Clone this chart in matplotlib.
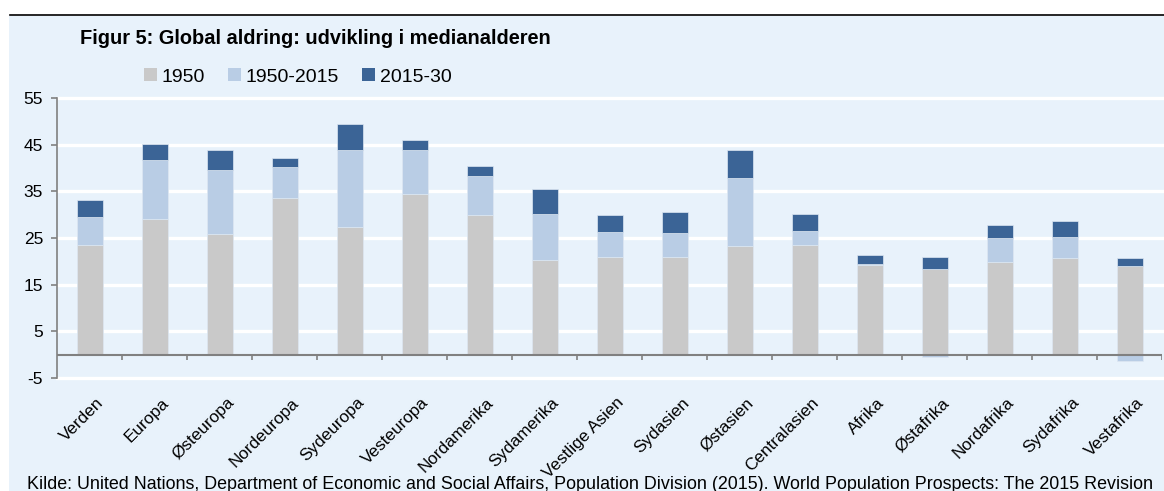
import numpy as np
import matplotlib
matplotlib.use("Agg")
import matplotlib.pyplot as plt
from matplotlib.patches import Rectangle, Patch
from matplotlib.lines import Line2D
from matplotlib.transforms import ScaledTranslation

plt.rcParams["font.family"] = ["Liberation Sans", "DejaVu Sans"]
plt.rcParams["axes.unicode_minus"] = False

# data (medianalder)
regions = ["Verden", "Europa", "Østeuropa", "Nordeuropa", "Sydeuropa", "Vesteuropa",
           "Nordamerika", "Sydamerika", "Vestlige Asien", "Sydasien", "Østasien",
           "Centralasien", "Afrika", "Østafrika", "Nordafrika", "Sydafrika", "Vestafrika"]
base_1950 = [23.6, 29.0, 25.9, 33.6, 27.4, 34.5, 29.9, 20.3, 20.9, 20.9, 23.2,
             23.6, 19.3, 18.4, 19.9, 20.7, 19.1]
chg_1950_2015 = [6.0, 12.7, 13.7, 6.7, 16.5, 9.3, 8.3, 9.8, 5.4, 5.2, 14.7,
                 2.9, 0.1, -0.5, 5.2, 4.5, -1.4]
chg_2015_30 = [3.5, 3.4, 4.3, 1.8, 5.5, 2.1, 2.2, 5.5, 3.6, 4.5, 5.9,
               3.7, 1.9, 2.5, 2.6, 3.4, 1.6]
series_names = ["1950", "1950-2015", "2015-30"]

colors = ["#c9c9c9", "#b9cde5", "#3b6496"]
panel_bg = "#e8f2fb"
axis_gray = "#808080"

W, H = 1164, 491
fig = plt.figure(figsize=(W / 100, H / 100), dpi=100)
fig.patch.set_facecolor("white")

# light blue panel + black rule on top
fig.patches.append(Rectangle((9 / W, 0), 1 - 9 / W, 1 - 16 / H, transform=fig.transFigure,
                             facecolor=panel_bg, edgecolor="none", zorder=-5))
fig.lines.append(Line2D([10 / W, 1], [1 - 15 / H, 1 - 15 / H], transform=fig.transFigure,
                        color="black", lw=1.2, zorder=-4))

ax = fig.add_axes([57 / W, 1 - 378 / H, (1162 - 57) / W, (378 - 98) / H])
ax.set_facecolor(panel_bg)

x = np.arange(len(regions))
pos_bottom = np.zeros(len(regions))
neg_bottom = np.zeros(len(regions))
for vals, col in zip([base_1950, chg_1950_2015, chg_2015_30], colors):
    v = np.array(vals)
    bottom = np.where(v >= 0, pos_bottom, neg_bottom)
    ax.bar(x, v, 0.4, bottom=bottom, color=col, edgecolor="#dde7f2", linewidth=0.5, zorder=3)
    pos_bottom += np.where(v >= 0, v, 0)
    neg_bottom += np.where(v < 0, v, 0)

ax.set_xlim(-0.5, len(regions) - 0.5)
ax.set_ylim(-5, 55)
ax.set_yticks(np.arange(-5, 56, 10))
for t in np.arange(-5, 56, 10):
    ax.axhline(t, color="white", lw=2.4, zorder=1, clip_on=False)

for s in ["top", "right", "bottom"]:
    ax.spines[s].set_visible(False)
ax.spines["left"].set_color(axis_gray)
ax.spines["left"].set_linewidth(1.2)
ax.tick_params(axis="y", length=4, width=1.2, color=axis_gray, labelsize=12.5, pad=6)

# x axis line at zero with ticks between categories
ax.axhline(0, color=axis_gray, lw=1.5, zorder=4)
ax.vlines(np.arange(0.5, len(regions), 1), -1.1, 0, color=axis_gray, lw=1.2, zorder=4)

ax.set_xticks(x)
ax.set_xticklabels(regions, fontsize=12.3)
ax.tick_params(axis="x", length=0, pad=16)
shift = ScaledTranslation(12 / 100, 0, fig.dpi_scale_trans)
for lbl in ax.get_xticklabels():
    lbl.set_rotation(45)
    lbl.set_ha("right")
    lbl.set_va("center")
    lbl.set_rotation_mode("anchor")
    lbl.set_transform(lbl.get_transform() + shift)

fig.text(80 / W, 1 - 39 / H, "Figur 5: Global aldring: udvikling i medianalderen",
         fontsize=14.4, fontweight="bold", ha="left", va="center")

handles = [Patch(facecolor=c, edgecolor="none") for c in colors]
fig.legend(handles, series_names, loc="center left", bbox_to_anchor=(144 / W, 1 - 77 / H),
           ncol=3, frameon=False, fontsize=14, handlelength=0.65, handleheight=0.65,
           handletextpad=0.25, columnspacing=1.2, borderpad=0, borderaxespad=0)

fig.text(27 / W, 1 - 489 / H,
         "Kilde: United Nations, Department of Economic and Social Affairs, Population Division (2015). "
         "World Population Prospects: The 2015 Revision",
         fontsize=12.9, ha="left", va="baseline")

fig.savefig("out.png", dpi=100, facecolor="white")
